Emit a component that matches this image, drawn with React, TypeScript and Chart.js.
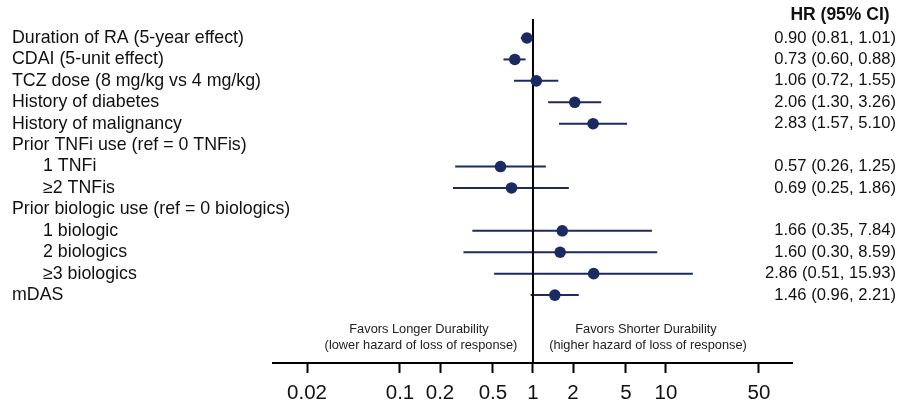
import React, { useEffect, useRef } from "react";
import { Chart, registerables } from "chart.js";

Chart.register(...registerables);

const rowLabels = [
  "Duration of RA (5-year effect)",
  "CDAI (5-unit effect)",
  "TCZ dose (8 mg/kg vs 4 mg/kg)",
  "History of diabetes",
  "History of malignancy",
  "Prior TNFi use (ref = 0 TNFis)",
  "1 TNFi",
  "≥2 TNFis",
  "Prior biologic use (ref = 0 biologics)",
  "1 biologic",
  "2 biologics",
  "≥3 biologics",
  "mDAS",
];
const rowIndent = [0, 0, 0, 0, 0, 0, 1, 1, 0, 1, 1, 1, 0];
const hrValues: (number | null)[] = [0.9, 0.73, 1.06, 2.06, 2.83, null, 0.57, 0.69, null, 1.66, 1.6, 2.86, 1.46];
const ciLow: (number | null)[] = [0.81, 0.6, 0.72, 1.3, 1.57, null, 0.26, 0.25, null, 0.35, 0.3, 0.51, 0.96];
const ciHigh: (number | null)[] = [1.01, 0.88, 1.55, 3.26, 5.1, null, 1.25, 1.86, null, 7.84, 8.59, 15.93, 2.21];
const hrText: (string | null)[] = [
  "0.90 (0.81, 1.01)",
  "0.73 (0.60, 0.88)",
  "1.06 (0.72, 1.55)",
  "2.06 (1.30, 3.26)",
  "2.83 (1.57, 5.10)",
  null,
  "0.57 (0.26, 1.25)",
  "0.69 (0.25, 1.86)",
  null,
  "1.66 (0.35, 7.84)",
  "1.60 (0.30, 8.59)",
  "2.86 (0.51, 15.93)",
  "1.46 (0.96, 2.21)",
];
const xTicks = [0.02, 0.1, 0.2, 0.5, 1, 2, 5, 10, 50];
const hrHeader = "HR (95% CI)";
const favorLeft = ["Favors Longer Durability", "(lower hazard of loss of response)"];
const favorRight = ["Favors Shorter Durability", "(higher hazard of loss of response)"];

const FONT = "'Liberation Sans', Arial, sans-serif";
const NAVY = "#1c2a62";
const Y_MIN = -0.887;
const Y_MAX = 15.17;

export default function App() {
  const ref = useRef<HTMLCanvasElement | null>(null);

  useEffect(() => {
    if (!ref.current) return;
    Chart.defaults.font.family = FONT;

    const whiskerSets: any[] = [];
    rowLabels.forEach((_, i) => {
      const lo = ciLow[i];
      const hi = ciHigh[i];
      if (lo == null || hi == null) return;
      whiskerSets.push({
        type: "scatter",
        data: [
          { x: lo, y: i },
          { x: hi, y: i },
        ],
        showLine: true,
        borderColor: NAVY,
        borderWidth: 2,
        pointRadius: 0,
        order: 3,
        clip: false,
      });
    });

    const points = rowLabels
      .map((_, i) => (hrValues[i] == null ? null : { x: hrValues[i] as number, y: i }))
      .filter((p) => p !== null);

    const textPlugin = {
      id: "forestText",
      afterDraw(chart: any) {
        const ctx = chart.ctx;
        const ys = chart.scales.y;
        ctx.save();
        ctx.fillStyle = "#111";
        ctx.textBaseline = "middle";
        ctx.font = `17.8px ${FONT}`;
        ctx.textAlign = "left";
        rowLabels.forEach((lab, i) => {
          const y = ys.getPixelForValue(i);
          ctx.fillText(lab, rowIndent[i] ? 43 : 12, y);
        });
        ctx.font = `16.6px ${FONT}`;
        ctx.textAlign = "right";
        hrText.forEach((t, i) => {
          if (!t) return;
          ctx.fillText(t, 896, ys.getPixelForValue(i));
        });
        ctx.font = `bold 17.5px ${FONT}`;
        ctx.textAlign = "center";
        ctx.fillText(hrHeader, 840, 15);
        ctx.font = `12.8px ${FONT}`;
        ctx.fillStyle = "#222";
        ctx.fillText(favorLeft[0], 419, 329);
        ctx.fillText(favorLeft[1], 421, 345);
        ctx.fillText(favorRight[0], 646, 329);
        ctx.fillText(favorRight[1], 648, 345);
        ctx.restore();
      },
    };

    const chart = new Chart(ref.current, {
      type: "scatter",
      data: {
        datasets: [
          ...whiskerSets,
          {
            type: "scatter",
            data: [
              { x: 1, y: Y_MIN },
              { x: 1, y: Y_MAX },
            ],
            showLine: true,
            borderColor: "#000",
            borderWidth: 2,
            pointRadius: 0,
            order: 2,
            clip: false,
          },
          {
            type: "scatter",
            data: points as any,
            pointRadius: 5.8,
            pointBackgroundColor: NAVY,
            pointBorderColor: NAVY,
            pointBorderWidth: 0,
            order: 1,
            clip: false,
          },
        ],
      },
      options: {
        animation: false,
        responsive: false,
        maintainAspectRatio: false,
        layout: { padding: { left: 273, right: 120, top: 19, bottom: 0 } },
        plugins: { legend: { display: false }, tooltip: { enabled: false }, title: { display: false } },
        scales: {
          x: {
            type: "logarithmic",
            min: 0.0111,
            max: 88.6,
            afterBuildTicks: (scale: any) => {
              scale.ticks = xTicks.map((v) => ({ value: v }));
            },
            afterFit: (scale: any) => {
              scale.height = 41;
            },
            ticks: {
              autoSkip: false,
              maxRotation: 0,
              padding: 8,
              color: "#111",
              font: { size: 20.5, family: FONT },
              callback: (v: any) => String(v),
            },
            grid: {
              display: true,
              drawOnChartArea: false,
              drawTicks: true,
              tickLength: 10,
              tickWidth: 2,
              tickColor: "#000",
            },
            border: { display: true, color: "#000", width: 2 },
          },
          y: {
            type: "linear",
            display: false,
            reverse: true,
            min: Y_MIN,
            max: Y_MAX,
          },
        },
      },
      plugins: [textPlugin],
    } as any);

    return () => chart.destroy();
  }, []);

  return (
    <div style={{ position: "fixed", left: 0, top: 0, width: 912, height: 404, background: "#fff" }}>
      <canvas ref={ref} width={912} height={404} style={{ width: 912, height: 404 }} />
    </div>
  );
}
